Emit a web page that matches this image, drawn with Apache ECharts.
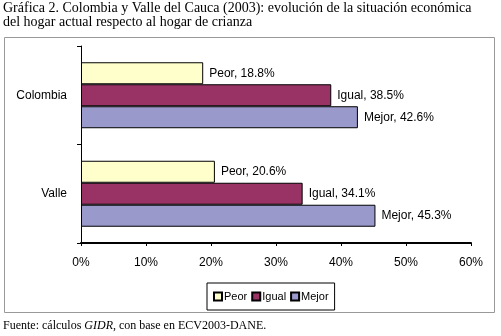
<!DOCTYPE html>
<html>
<head>
<meta charset="utf-8">
<script src="https://cdn.jsdelivr.net/npm/echarts@6/dist/echarts.min.js"></script>
<style>
  html, body { margin: 0; padding: 0; background: #fff; }
  #chart { width: 501px; height: 336px; }
</style>
</head>
<body>
<div id="chart"></div>
<script>
var categories = ['Colombia', 'Valle'];
var seriesNames = ['Peor', 'Igual', 'Mejor'];
var peor = [18.8, 20.6];
var igual = [38.5, 34.1];
var mejor = [42.6, 45.3];
var xTicks = [0, 10, 20, 30, 40, 50, 60];
var colors = ['#FFFFCC', '#993366', '#9999CC'];

var chartDom = document.getElementById('chart');
var myChart = echarts.init(chartDom);
var option;

function makeSeries(name, values, color) {
  return {
    name: name,
    type: 'bar',
    data: values,
    barGap: '0%',
    barCategoryGap: '33%',
    itemStyle: { color: color, borderColor: '#000', borderWidth: 1 },
    label: {
      show: true,
      position: 'right',
      distance: 6,
      color: '#000',
      fontFamily: 'Liberation Sans',
      fontSize: 12,
      formatter: function (p) { return name + ', ' + p.value.toFixed(1) + '%'; }
    }
  };
}

option = {
  animation: false,
  textStyle: { fontFamily: 'Liberation Sans' },
  graphic: [
    {
      type: 'rect',
      shape: { x: 4.5, y: 37.5, width: 490, height: 275 },
      style: { fill: 'none', stroke: '#999', lineWidth: 1 }
    },
    {
      type: 'text',
      left: 3,
      top: 1,
      style: {
        text: 'Gráfica 2. Colombia y Valle del Cauca (2003): evolución de la situación económica\ndel hogar actual respecto al hogar de crianza',
        font: '14px "Liberation Serif"',
        lineHeight: 14,
        fill: '#000'
      }
    },
    {
      type: 'text',
      left: 3,
      top: 320,
      style: {
        text: 'Fuente: cálculos {i|GIDR}, con base en ECV2003-DANE.',
        font: '12px "Liberation Serif"',
        fill: '#000',
        rich: { i: { fontStyle: 'italic', fontFamily: 'Liberation Serif', fontSize: 12 } }
      }
    }
  ],
  legend: {
    data: seriesNames,
    left: 207,
    top: 283,
    itemWidth: 8,
    itemHeight: 8,
    itemGap: 4,
    padding: [8, 6, 8, 6],
    borderColor: '#000',
    borderWidth: 1,
    icon: 'rect',
    textStyle: { fontFamily: 'Liberation Sans', fontSize: 11, color: '#000', padding: [0, 0, 0, -3] }
  },
  grid: { left: 81, right: 30, top: 46, bottom: 93 },
  xAxis: {
    type: 'value',
    min: 0,
    max: 60,
    interval: 10,
    axisLine: { show: true, lineStyle: { color: '#000', width: 2 } },
    axisTick: { show: true, length: 3, lineStyle: { color: '#000' } },
    splitLine: { show: false },
    axisLabel: {
      color: '#000',
      fontSize: 12,
      margin: 14,
      formatter: function (v) { return xTicks.indexOf(v) >= 0 ? v + '%' : ''; }
    }
  },
  yAxis: {
    type: 'category',
    data: categories,
    inverse: true,
    axisLine: { show: true, lineStyle: { color: '#000', width: 1 } },
    axisTick: { show: true, length: 4, lineStyle: { color: '#000' } },
    axisLabel: { color: '#000', fontSize: 12, margin: 14 }
  },
  series: [
    makeSeries(seriesNames[0], peor, colors[0]),
    makeSeries(seriesNames[1], igual, colors[1]),
    makeSeries(seriesNames[2], mejor, colors[2])
  ]
};

option && myChart.setOption(option);
</script>
</body>
</html>
